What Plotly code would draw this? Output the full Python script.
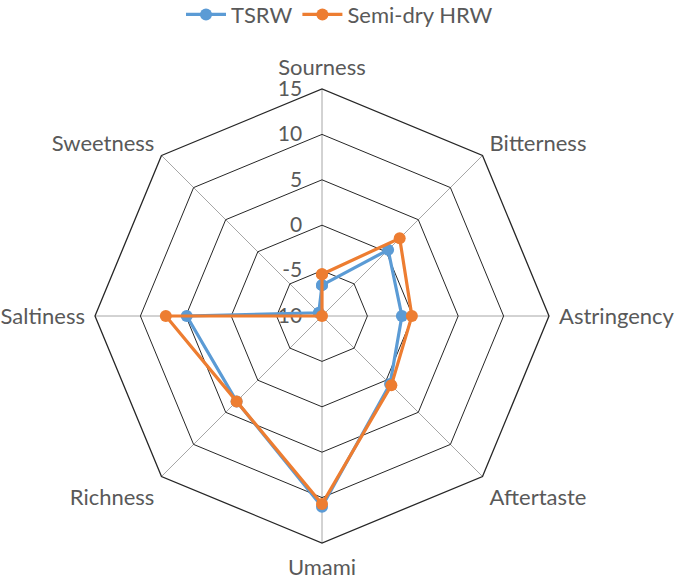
import plotly.graph_objects as go

categories = ["Sourness", "Bitterness", "Astringency", "Aftertaste",
              "Umami", "Richness", "Saltiness", "Sweetness"]
tsrw = [-6.6, 0.3, -1.2, 0.6, 11.0, 3.3, 4.9, -9.5]
semi_dry_hrw = [-5.4, 2.1, -0.1, 0.8, 10.7, 3.3, 7.2, -10.0]
tick_vals = [-10, -5, 0, 5, 10, 15]

BLUE = "#5B9BD5"
ORANGE = "#ED7D31"
FONT = "Lato"
TXT = "#595959"
R_RANGE = [-10, 15]
DOMAIN = dict(x=[95/679, 549/679], y=[37/580, 491/580])
NBSP = "\u00a0"

fig = go.Figure()
# invisible trace on the grid subplot so its angular axis knows the categories
fig.add_trace(go.Scatterpolar(
    r=tsrw, theta=categories, mode="lines", opacity=0,
    line=dict(width=1, color="white"), showlegend=False, hoverinfo="skip",
    subplot="polar"))
for name, vals, col in [("TSRW", tsrw, BLUE), ("Semi-dry HRW", semi_dry_hrw, ORANGE)]:
    fig.add_trace(go.Scatterpolar(
        r=vals + vals[:1], theta=categories + categories[:1],
        mode="lines+markers", name=name, subplot="polar2",
        line=dict(color=col, width=3.2),
        marker=dict(color=col, size=12),
    ))

common_ang = dict(direction="clockwise", rotation=90, categoryorder="array",
                  categoryarray=categories)

fig.update_layout(
    width=679, height=580,
    margin=dict(l=0, r=0, t=0, b=0, autoexpand=False),
    paper_bgcolor="white", plot_bgcolor="white",
    font=dict(family=FONT, size=22, color=TXT),
    showlegend=True,
    legend=dict(orientation="h", x=0.5, xanchor="center", y=1.011, yanchor="top",
                font=dict(size=22, color=TXT), itemwidth=40),
    polar=dict(
        domain=DOMAIN,
        gridshape="linear",
        bgcolor="white",
        radialaxis=dict(range=R_RANGE, tickvals=tick_vals,
                        ticktext=[f"{v}{NBSP * 3}" for v in tick_vals],
                        angle=90, tickangle=90,
                        side="counterclockwise", showline=False, ticks="",
                        gridcolor="#262626", gridwidth=1.3,
                        tickfont=dict(size=21, color=TXT)),
        angularaxis=dict(**common_ang,
                         linecolor="#262626", linewidth=1.3,
                         ticks="outside", ticklen=5, tickcolor="rgba(0,0,0,0)",
                         gridcolor="#A6A6A6", gridwidth=1,
                         tickfont=dict(size=22, color=TXT)),
    ),
    polar2=dict(
        domain=DOMAIN,
        bgcolor="rgba(0,0,0,0)",
        radialaxis=dict(range=R_RANGE, angle=90, showline=False, showgrid=False,
                        showticklabels=False, ticks=""),
        angularaxis=dict(**common_ang, showline=False, showgrid=False,
                         showticklabels=False, ticks=""),
    ),
)

fig.write_html("out.html", config={"displayModeBar": False},
               post_script="document.body.style.margin='0px';")
